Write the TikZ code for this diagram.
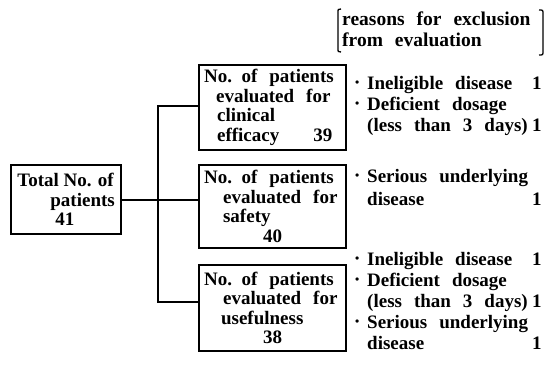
\documentclass[tikz,border=0pt]{standalone}
\usepackage{fontspec}
\setmainfont{Liberation Serif}

% one reason with its count, and a following line of it
\newcommand{\rsn}[2]{\makebox[12pt][l]{\raisebox{2.5pt}{\fontsize{12}{12}\selectfont •}}\makebox[165pt][l]{#1}#2}
\newcommand{\rsc}[2]{\hspace*{12pt}\makebox[165pt][l]{#1}#2}

\begin{document}
\begin{tikzpicture}[x=1pt, y=-1pt,
      font=\fontsize{19}{19.5}\selectfont\bfseries,
      wide/.style={execute at begin node={\spaceskip 12pt plus 2pt minus 1pt\relax}},
      box/.style={draw, line width=2.2pt, anchor=north west, align=left, inner xsep=5pt, inner ysep=0pt, text width=137pt, wide},
      why/.style={anchor=north west, align=left, inner sep=0pt, text width=187pt, wide,
        font=\fontsize{19}{21}\selectfont\bfseries},
      wire/.style={line width=2pt}
    ]
    \useasboundingbox (0,0) rectangle (548,369);
    \node[draw, line width=2.2pt, anchor=north west, align=left, inner xsep=6pt, inner ysep=0pt,
      minimum width=110pt, minimum height=69pt] (total) at (10,164)
      {Total No. of\\\hspace*{33pt}patients\\\hspace*{38pt}41};
    \node[box, minimum height=85pt] (eff) at (198,64)
      {No. of patients\\\hspace*{12pt}evaluated for\\\hspace*{13pt}clinical\\\hspace*{13pt}efficacy\hspace{34pt}39};
    \node[box, minimum height=83pt] (saf) at (198,164)
      {No. of patients\\\hspace*{19pt}evaluated for\\\hspace*{19pt}safety\\\hspace*{59pt}40};
    \node[box, minimum height=86pt] (use) at (198,264)
      {No. of patients\\\hspace*{19pt}evaluated for\\\hspace*{17pt}usefulness\\\hspace*{59pt}38};
    % branching lines
    \coordinate (fork) at (158,198.5);
    \draw[wire] (total.east) -- (total.east -| saf.west);
    \draw[wire] ([yshift=1.5pt]eff.west) -| (fork) |- ([yshift=6pt]use.west);
    % reasons
    \node[anchor=north west, align=left, inner sep=0pt, wide,
      font=\fontsize{19.5}{21}\selectfont\bfseries] (head) at (342,12)
      {reasons for exclusion\\from evaluation};
    \draw[line width=1.3pt] (341,9) .. controls (338,9) .. (338,13) -- (338,48) .. controls (338,52) .. (341,52);
    \draw[line width=1.3pt] (539,10) .. controls (543,10) .. (543,14) -- (543,51) .. controls (543,55) .. (539,55);
    \node[why] (r1) at (355,76)
      {\rsn{Ineligible disease}{1}\\\rsn{Deficient dosage}{}\\\rsc{(less than 3 days)}{1}};
    \node[why] (r2) at (355,169)
      {\rsn{Serious underlying}{}\\[2pt]\rsc{disease}{1}};
    \node[why] (r3) at (355,252)
      {\rsn{Ineligible disease}{1}\\\rsn{Deficient dosage}{}\\\rsc{(less than 3 days)}{1}\\\rsn{Serious underlying}{}\\\rsc{disease}{1}};
  \end{tikzpicture}
\end{document}
